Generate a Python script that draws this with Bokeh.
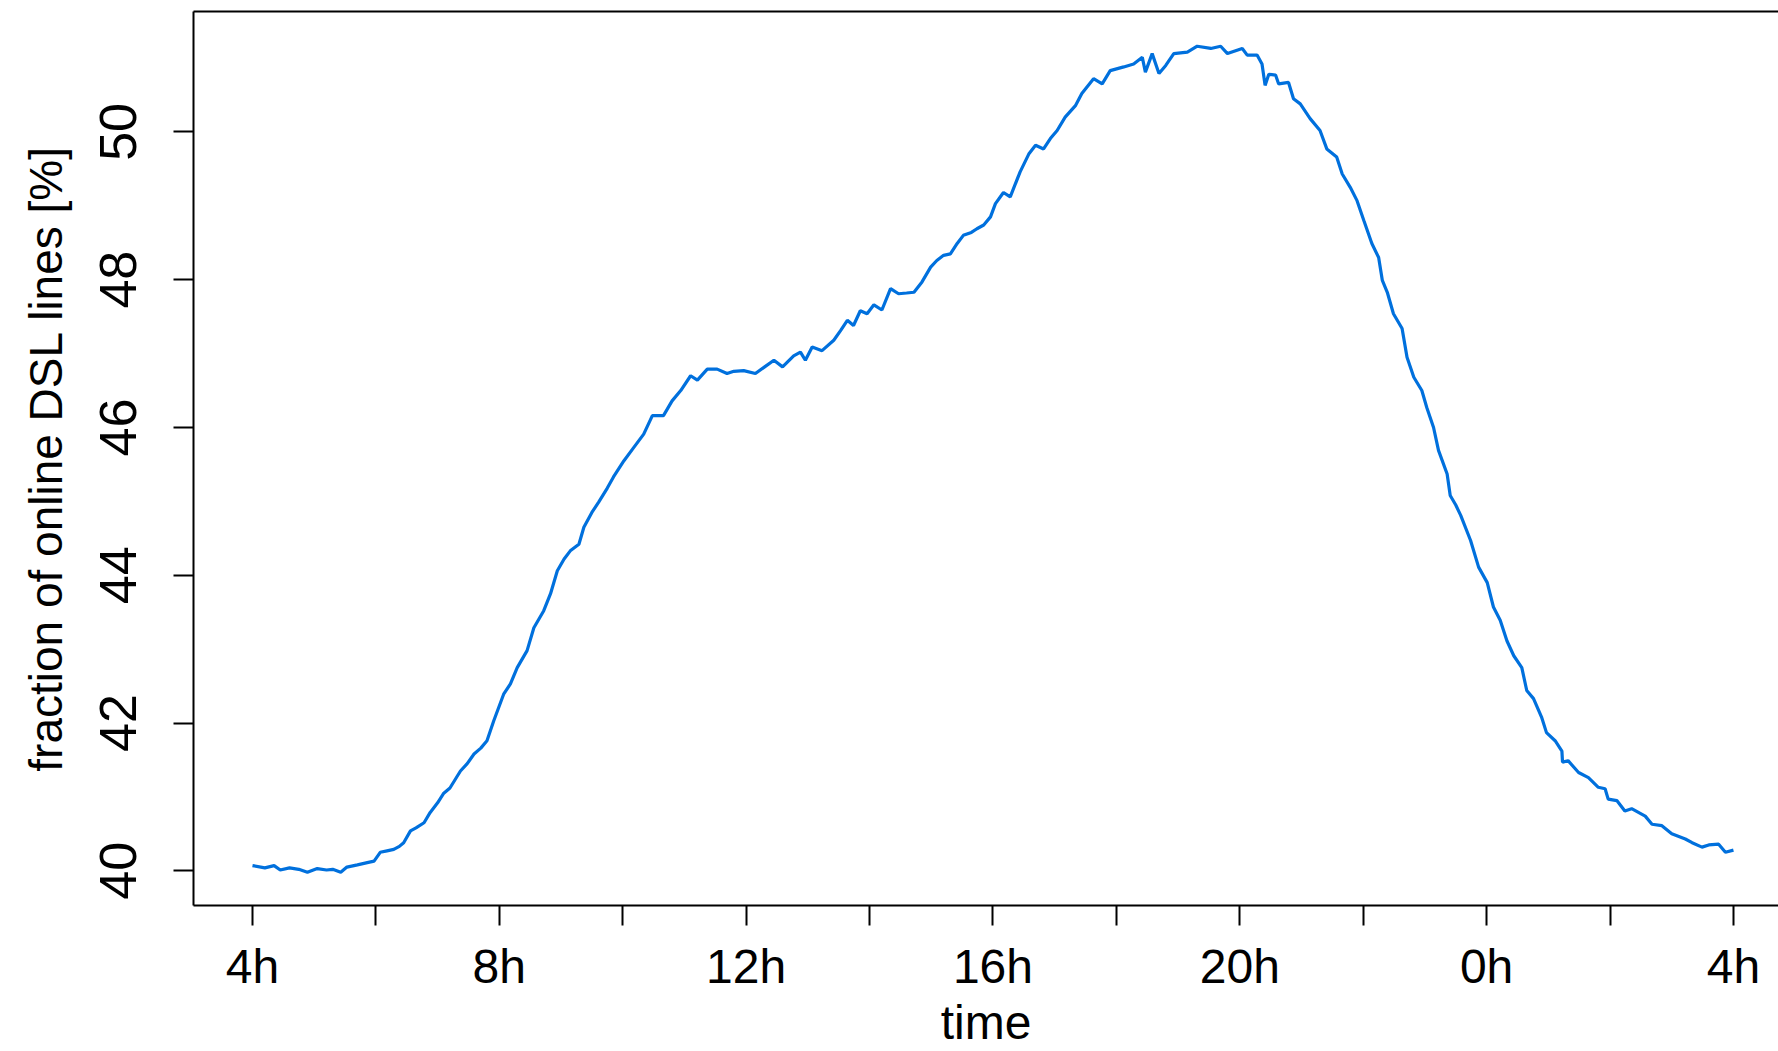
from bokeh.plotting import figure
from bokeh.models import FixedTicker, LinearAxis, Range1d, ColumnDataSource
from bokeh.embed import file_html
from bokeh.resources import INLINE

# hours elapsed since 4h (0 = 4h, 24 = 4h next day)
hours = [0.00, 0.20, 0.35, 0.45, 0.60, 0.75, 0.89, 1.05, 1.20, 1.30, 1.43, 1.53, 1.70, 1.86, 1.97,
         2.07, 2.18, 2.29, 2.38, 2.45, 2.56, 2.65, 2.78, 2.88, 3.00, 3.10, 3.20, 3.37, 3.48, 3.59,
         3.70, 3.80, 3.91, 4.07, 4.18, 4.29, 4.45, 4.56, 4.72, 4.83, 4.94, 5.05, 5.15, 5.29, 5.37,
         5.50, 5.61, 5.75, 5.85, 6.02, 6.18, 6.34, 6.48, 6.66, 6.80, 6.94, 7.10, 7.21, 7.37, 7.53,
         7.69, 7.80, 7.96, 8.15, 8.30, 8.45, 8.59, 8.77, 8.88, 8.96, 9.07, 9.23, 9.42, 9.53, 9.64,
         9.74, 9.85, 9.96, 10.07, 10.20, 10.34, 10.47, 10.60, 10.72, 10.85, 10.99, 11.09, 11.20,
         11.31, 11.42, 11.52, 11.65, 11.74, 11.85, 11.96, 12.04, 12.17, 12.28, 12.44, 12.58, 12.69,
         12.82, 12.93, 13.04, 13.17, 13.34, 13.44, 13.63, 13.77, 13.90, 14.12, 14.28, 14.42, 14.47,
         14.58, 14.69, 14.80, 14.93, 15.15, 15.31, 15.53, 15.69, 15.80, 16.04, 16.12, 16.28, 16.36,
         16.41, 16.47, 16.58, 16.63, 16.79, 16.87, 16.98, 17.14, 17.30, 17.41, 17.57, 17.66, 17.79,
         17.90, 18.01, 18.14, 18.25, 18.31, 18.39, 18.49, 18.63, 18.71, 18.82, 18.95, 19.03, 19.14,
         19.22, 19.36, 19.41, 19.50, 19.58, 19.74, 19.87, 20.01, 20.11, 20.22, 20.33, 20.44, 20.57,
         20.65, 20.76, 20.89, 20.97, 21.11, 21.22, 21.23, 21.32, 21.49, 21.65, 21.81, 21.92, 21.97,
         22.11, 22.24, 22.35, 22.57, 22.68, 22.84, 23.00, 23.22, 23.33, 23.49, 23.60, 23.76, 23.87,
         24.00]

online_pct = [40.07, 40.04, 40.07, 40.01, 40.04, 40.02, 39.98, 40.03, 40.01, 40.02, 39.98, 40.05, 40.08, 40.11, 40.13,
              40.25, 40.27, 40.29, 40.33, 40.38, 40.54, 40.58, 40.65, 40.79, 40.92, 41.05, 41.12, 41.35, 41.45, 41.58,
              41.66, 41.76, 42.03, 42.39, 42.53, 42.75, 42.98, 43.29, 43.52, 43.75, 44.06, 44.22, 44.33, 44.42, 44.65,
              44.85, 44.99, 45.18, 45.33, 45.55, 45.73, 45.91, 46.16, 46.16, 46.36, 46.50, 46.70, 46.64, 46.79, 46.79,
              46.73, 46.76, 46.77, 46.73, 46.82, 46.91, 46.82, 46.97, 47.02, 46.91, 47.09, 47.04, 47.18, 47.31, 47.45,
              47.38, 47.58, 47.54, 47.66, 47.59, 47.88, 47.81, 47.82, 47.83, 47.97, 48.17, 48.26, 48.33,
              48.35, 48.49, 48.60, 48.64, 48.69, 48.74, 48.85, 49.03, 49.18, 49.12, 49.46, 49.70, 49.82,
              49.77, 49.91, 50.02, 50.20, 50.36, 50.52, 50.72, 50.65, 50.83, 50.88, 50.92, 51.01, 50.81,
              51.06, 50.79, 50.90, 51.06, 51.08, 51.16, 51.13, 51.16, 51.06, 51.13, 51.04, 51.04, 50.92,
              50.63, 50.78, 50.77, 50.65, 50.67, 50.45, 50.38, 50.18, 50.02, 49.77, 49.66, 49.43, 49.25,
              49.07, 48.80, 48.49, 48.30, 47.99, 47.83, 47.54, 47.34, 46.95, 46.68, 46.50, 46.27, 46.00,
              45.69, 45.37, 45.08, 44.95, 44.81, 44.47, 44.11, 43.90, 43.57, 43.39, 43.11, 42.91, 42.75,
              42.44, 42.33, 42.08, 41.87, 41.76, 41.62, 41.47, 41.49, 41.33, 41.26, 41.13, 41.11, 40.97,
              40.95, 40.81, 40.84, 40.74, 40.63, 40.61, 40.50, 40.43, 40.38, 40.32, 40.35, 40.36, 40.25,
              40.28]

x_ticks = [0, 2, 4, 6, 8, 10, 12, 14, 16, 18, 20, 22, 24]
x_tick_labels = ["4h", "", "8h", "", "12h", "", "16h", "", "20h", "", "0h", "", "4h"]
y_ticks = [40, 42, 44, 46, 48, 50]
x_title = "time"
y_title = "fraction of online DSL lines [%]"

FONT = "Liberation Sans"
LINE_COLOR = "#0070DD"

p = figure(width=1778, height=1051, output_backend="svg", toolbar_location=None,
           x_range=Range1d(-0.956, 24.73), y_range=Range1d(39.53, 51.63),
           min_border_left=193, min_border_right=0, min_border_top=11, min_border_bottom=146)
p.background_fill_color = "white"
p.border_fill_color = "white"
p.outline_line_color = None
p.grid.visible = False

src = ColumnDataSource(data=dict(h=hours, v=online_pct))
p.line("h", "v", source=src, line_color=LINE_COLOR, line_width=3.2)

xa = p.xaxis[0]
xa.ticker = FixedTicker(ticks=x_ticks)
xa.major_label_overrides = {t: lab for t, lab in zip(x_ticks, x_tick_labels)}
xa.axis_label = x_title
ya = p.yaxis[0]
ya.ticker = FixedTicker(ticks=y_ticks)
ya.axis_label = y_title
ya.major_label_orientation = "parallel"

for ax in (xa, ya):
    ax.axis_line_color = "black"
    ax.axis_line_width = 2
    ax.major_tick_line_color = "black"
    ax.major_tick_line_width = 2
    ax.major_tick_in = 0
    ax.major_tick_out = 20
    ax.minor_tick_line_color = None
    ax.major_label_text_font = FONT
    ax.major_label_text_color = "black"
    ax.axis_label_text_font = FONT
    ax.axis_label_text_font_style = "normal"
    ax.axis_label_text_color = "black"

xa.major_label_text_font_size = "48px"
xa.axis_label_text_font_size = "48px"
ya.major_label_text_font_size = "52px"
ya.axis_label_text_font_size = "46px"
xa.major_label_standoff = 14
xa.axis_label_standoff = 0
ya.major_label_standoff = 37
ya.axis_label_standoff = 26

top = LinearAxis(ticker=FixedTicker(ticks=[]), axis_line_color="black", axis_line_width=2,
                 major_tick_line_color=None, minor_tick_line_color=None,
                 major_tick_out=0, major_tick_in=0, major_label_standoff=0,
                 major_label_text_font_size="0px")
p.add_layout(top, "above")

open("out.html", "w").write(file_html(p, INLINE))
